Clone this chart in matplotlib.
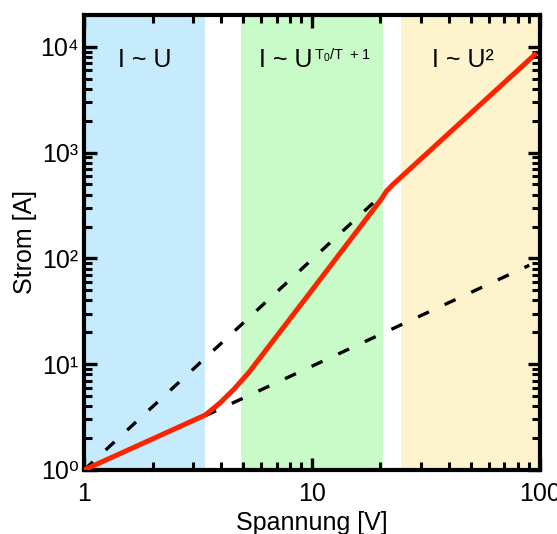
import matplotlib
matplotlib.use("Agg")
import matplotlib.pyplot as plt
from matplotlib.ticker import LogLocator, NullFormatter, FixedLocator, FixedFormatter, FuncFormatter
import numpy as np

plt.rcParams['font.family'] = ['Liberation Sans', 'DejaVu Sans']
plt.rcParams['mathtext.default'] = 'regular'

# shaded regimes (voltage ranges) and their labels
region_lo = [1.0, 4.9, 24.7]
region_hi = [3.4, 20.5, 100.0]
region_colors = ["#c6ebfd", "#c9fbc8", "#fdf3cd"]
region_labels = ["I ~ U", "I ~ U", "I ~ U²"]
region_sup = [None, r"$T_0/T\,\,+1$", None]
label_x = [1.85, 7.7, 46.0]

# measured I-U curve
u_curve = [1.0, 3.4, 3.95, 4.55, 5.3, 10.0, 20.3, 21.2, 22.7, 95.0]
i_curve = [1.0, 3.3, 4.3, 5.8, 8.4, 50.0, 370.0, 430.0, 500.0, 8400.0]

# guide lines: I ~ U^2 (upper) and I ~ U (lower)
u_quad = [1.0, 21.2]
i_quad = [1.0, 435.0]
u_lin = [3.4, 90.0]
i_lin = [3.25, 86.0]

SUP = str.maketrans("0123456789", "⁰¹²³⁴⁵⁶⁷⁸⁹")

fig = plt.figure(figsize=(5.57, 5.34), dpi=100)
ax = fig.add_axes([0.151, 0.12, 0.818, 0.852])

for lo, hi, c in zip(region_lo, region_hi, region_colors):
    ax.axvspan(lo, hi, color=c, lw=0, zorder=0)

ax.plot(u_quad, i_quad, color="black", lw=2.4, ls=(0, (3.6, 5.2)), zorder=2)
ax.plot(u_lin, i_lin, color="black", lw=2.4, ls=(0, (3.6, 5.2)), zorder=2)
ax.plot(u_curve, i_curve, color="#ff2200", lw=3.6, solid_joinstyle="round", zorder=3)

for x, txt, sup in zip(label_x, region_labels, region_sup):
    t = ax.text(x, 0.90, txt, transform=ax.get_xaxis_transform(), ha="center", va="center",
                fontsize=18)
    if sup:
        # exponent drawn smaller, top-aligned with the capital U
        ax.annotate(sup, xy=(1, 1), xycoords=t, xytext=(0.5, 1.5), textcoords="offset points",
                    ha="left", va="top", fontsize=10.5)

ax.set_xscale("log")
ax.set_yscale("log")
ax.set_xlim(1, 100)
ax.set_ylim(1, 2.0e4)

ax.xaxis.set_major_locator(FixedLocator([1, 10, 100]))
ax.xaxis.set_major_formatter(FixedFormatter(["1", "10", "100"]))
ax.xaxis.set_minor_locator(LogLocator(base=10, subs=range(2, 10)))
ax.xaxis.set_minor_formatter(NullFormatter())
ax.yaxis.set_major_locator(LogLocator(base=10, numticks=10))
ax.yaxis.set_major_formatter(FuncFormatter(lambda v, p: "10" + str(int(round(np.log10(v)))).translate(SUP)))
ax.yaxis.set_minor_locator(LogLocator(base=10, subs=range(2, 10), numticks=10))
ax.yaxis.set_minor_formatter(NullFormatter())

ax.tick_params(which="both", direction="in", top=True, right=True, labelsize=18)
ax.tick_params(which="major", length=9, width=2.4)
ax.tick_params(which="minor", length=6, width=2.2)
ax.tick_params(axis="x", pad=9)
ax.tick_params(axis="y", pad=4)
for s in ax.spines.values():
    s.set_linewidth(3)

ax.set_xlabel("Spannung [V]", fontsize=18, labelpad=3)
ax.set_ylabel("Strom [A]", fontsize=18, labelpad=2)

fig.savefig("out.png", dpi=100)
